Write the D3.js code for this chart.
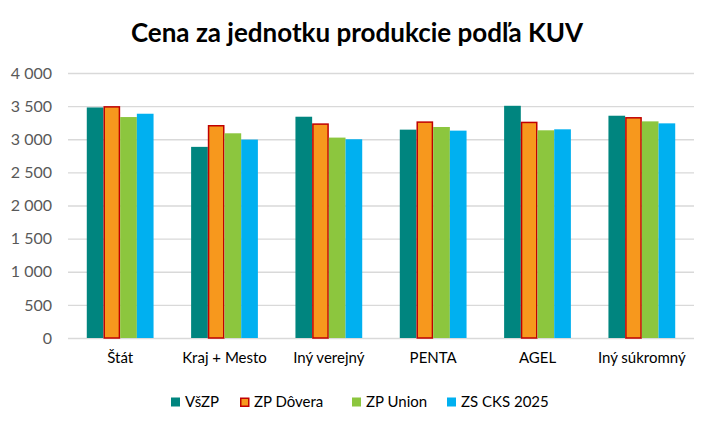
<!DOCTYPE html>
<html>
<head>
<meta charset="utf-8">
<script src="https://cdn.jsdelivr.net/npm/d3@7"></script>
<style>
	body { margin: 0; background: #fff; }
	svg { display: block; }
</style>
</head>
<body>
<svg id="chart" width="712" height="428"></svg>
<script>
const categories = ["Štát", "Kraj + Mesto", "Iný verejný", "PENTA", "AGEL", "Iný súkromný"];
const seriesNames = ["VšZP", "ZP Dôvera", "ZP Union", "ZS CKS 2025"];
const vszp = [3480, 2885, 3340, 3145, 3505, 3355];
const dovera = [3500, 3215, 3240, 3270, 3265, 3335];
const union = [3335, 3090, 3025, 3185, 3135, 3270];
const cks = [3385, 2995, 3000, 3130, 3150, 3240];
const yTicks = [0, 500, 1000, 1500, 2000, 2500, 3000, 3500, 4000];

const colors = ["#00857f", "#f7981d", "#8cc63e", "#00b0f0"];
const fontFam = "Lato, 'Open Sans', sans-serif";

const svg = d3.select("#chart");
const width = 712,
	height = 428;
const margin = { top: 73, right: 18, bottom: 90, left: 68 };

const values = [vszp, dovera, union, cks];
const data = categories.map((c, i) => ({
	category: c,
	values: seriesNames.map((s, j) => ({ series: s, idx: j, value: values[j][i] })),
}));

const x0 = d3
	.scaleBand()
	.domain(categories)
	.range([margin.left, width - margin.right])
	.paddingInner(0.36)
	.paddingOuter(0.18);

const x1 = d3.scaleBand().domain(seriesNames).range([0, x0.bandwidth()]);

const y = d3
	.scaleLinear()
	.domain([0, 4000])
	.range([height - margin.bottom, margin.top]);

const fmt = (d) => d3.format(",")(d).replace(/,/g, " ");

// title
svg.append("text")
	.attr("x", 357)
	.attr("y", 42)
	.attr("text-anchor", "middle")
	.attr("font-family", fontFam)
	.attr("font-weight", "bold")
	.attr("font-size", 26)
	.attr("fill", "#000")
	.text("Cena za jednotku produkcie podľa KUV");

// gridlines + y labels
const yAxis = svg
	.append("g")
	.attr("transform", `translate(${margin.left},0)`)
	.call(
		d3
			.axisLeft(y)
			.tickValues(yTicks)
			.tickSize(-(width - margin.left - margin.right))
			.tickPadding(16)
			.tickFormat(fmt)
	);
yAxis.select(".domain").remove();
yAxis.selectAll(".tick line").attr("stroke", "#d9d9d9").attr("stroke-width", 1.3);
yAxis.selectAll(".tick text")
	.attr("font-family", fontFam)
	.attr("font-size", 16)
	.attr("fill", "#595959");

// bars
const g = svg
	.append("g")
	.selectAll("g")
	.data(data)
	.join("g")
	.attr("transform", (d) => `translate(${x0(d.category)},0)`);

g.selectAll("rect")
	.data((d) => d.values)
	.join("rect")
	.attr("x", (d) => x1(d.series) + (d.idx === 1 ? 0.75 : 0))
	.attr("width", (d) => x1.bandwidth() - (d.idx === 1 ? 1.5 : 0))
	.attr("y", (d) => y(d.value) + (d.idx === 1 ? 0.75 : 0))
	.attr("height", (d) => y(0) - y(d.value) - (d.idx === 1 ? 0.75 : 0))
	.attr("fill", (d) => colors[d.idx])
	.attr("stroke", (d) => (d.idx === 1 ? "#c00000" : "none"))
	.attr("stroke-width", 1.5);

// x labels
const xAxis = svg
	.append("g")
	.attr("transform", `translate(0,${height - margin.bottom})`)
	.call(d3.axisBottom(x0).tickSize(0).tickPadding(14));
xAxis.select(".domain").remove();
xAxis.selectAll(".tick text")
	.attr("font-family", fontFam)
	.attr("font-size", 15)
	.attr("fill", "#000");

// legend
const legendX = [171, 240, 352, 447];
const legend = svg
	.append("g")
	.selectAll("g")
	.data(seriesNames)
	.join("g")
	.attr("transform", (d, i) => `translate(${legendX[i]},402)`);

legend
	.append("rect")
	.attr("x", (d, i) => (i === 1 ? 0.75 : 0))
	.attr("y", (d, i) => -4.5 + (i === 1 ? 0.75 : 0))
	.attr("width", (d, i) => (i === 1 ? 8 : 9))
	.attr("height", (d, i) => (i === 1 ? 8 : 9))
	.attr("fill", (d, i) => colors[i])
	.attr("stroke", (d, i) => (i === 1 ? "#c00000" : "none"))
	.attr("stroke-width", 1.5);

legend
	.append("text")
	.attr("x", 14)
	.attr("y", 0)
	.attr("dy", "0.35em")
	.attr("font-family", fontFam)
	.attr("font-size", 15)
	.attr("fill", "#000")
	.text((d) => d);
</script>
</body>
</html>
